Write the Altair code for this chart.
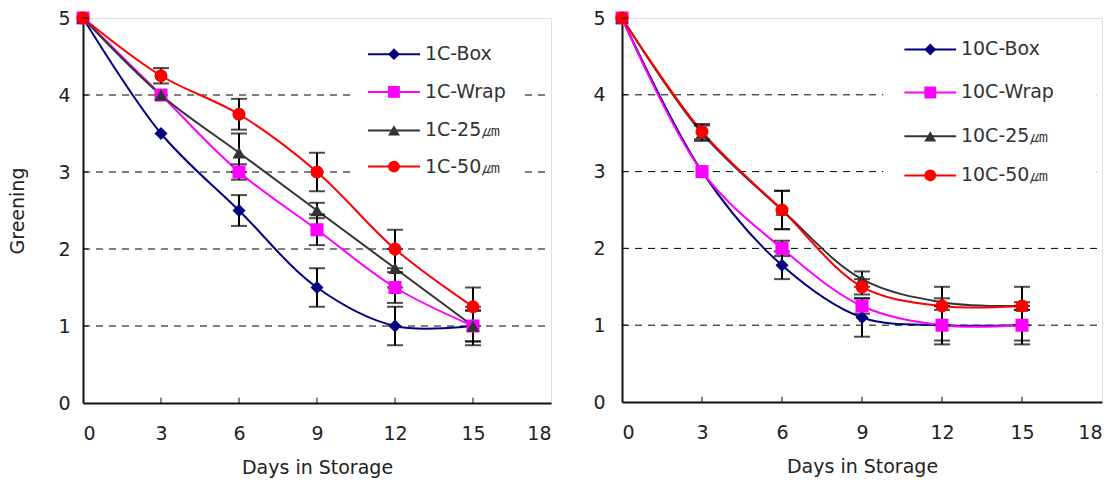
import altair as alt
import pandas as pd

# ---------------- data ----------------
days = [0, 3, 6, 9, 12, 15]
kinds = ["Box", "Wrap", "25", "50"]

left_labels = ["1C-Box", "1C-Wrap", "1C-25㎛", "1C-50㎛"]
left_box = [5.0, 3.5, 2.5, 1.5, 1.0, 1.0]
left_box_err = [0, 0, 0.2, 0.25, 0.25, 0.2]
left_wrap = [5.0, 4.0, 3.0, 2.25, 1.5, 1.0]
left_wrap_err = [0, 0, 0.1, 0.2, 0.2, 0.2]
left_25 = [5.0, 4.0, 3.25, 2.5, 1.75, 1.0]
left_25_err = [0, 0, 0.25, 0.1, 0.25, 0.25]
left_50 = [5.0, 4.25, 3.75, 3.0, 2.0, 1.25]
left_50_err = [0, 0.1, 0.2, 0.25, 0.25, 0.25]

right_labels = ["10C-Box", "10C-Wrap", "10C-25㎛", "10C-50㎛"]
right_box = [5.0, 3.0, 1.78, 1.1, 1.0, 1.0]
right_box_err = [0, 0, 0.18, 0.25, 0.25, 0.25]
right_wrap = [5.0, 3.0, 2.0, 1.25, 1.0, 1.0]
right_wrap_err = [0, 0, 0.1, 0.1, 0.2, 0.2]
right_25 = [5.0, 3.5, 2.5, 1.6, 1.3, 1.25]
right_25_err = [0, 0.1, 0.25, 0.1, 0.05, 0.05]
right_50 = [5.0, 3.52, 2.5, 1.5, 1.25, 1.25]
right_50_err = [0, 0.1, 0.25, 0.1, 0.25, 0.25]

x_ticks = [0, 3, 6, 9, 12, 15, 18]
y_ticks = [0, 1, 2, 3, 4, 5]
grid_levels = [1, 2, 3, 4]

colors = ["#000080", "#FF00FF", "#333333", "#FF0000"]
shapes = ["diamond", "square", "triangle-up", "circle"]

FONT = "DejaVu Sans"
TXT = "#222222"

color_scale = alt.Scale(domain=kinds, range=colors)
shape_scale = alt.Scale(domain=kinds, range=shapes)


def panel(values, errs, labels, leg_y, leg_x, bg, width, height, lab_pad, show_ytitle):
    xs = alt.Scale(domain=[0, 18], nice=False, zero=False)
    ys = alt.Scale(domain=[0, 5], nice=False)
    rows = []
    for k, vals, es in zip(kinds, values, errs):
        for d, v, e in zip(days, vals, es):
            rows.append({"kind": k, "day": d, "v": v, "lo": v - e, "hi": v + e, "e": e})
    df = pd.DataFrame(rows)
    edf = df[df["e"] > 0]

    X = alt.X("day:Q", scale=xs, axis=alt.Axis(
        values=x_ticks, format="d", title="Days in Storage", grid=False, ticks=False,
        domainColor="#111111", domainWidth=2, labelFont=FONT, labelFontSize=19,
        labelColor=TXT, labelPadding=21, titleFont=FONT, titleFontSize=19,
        titleFontWeight="normal", titleColor=TXT, titlePadding=15))
    Y = alt.Y("v:Q", scale=ys, axis=alt.Axis(
        values=y_ticks, format="d", title="Greening" if show_ytitle else None, grid=False,
        ticks=False, domainColor="#111111", domainWidth=2, labelFont=FONT,
        labelFontSize=19, labelColor=TXT, labelPadding=lab_pad, titleFont=FONT,
        titleFontSize=19, titleFontWeight="normal", titleColor=TXT, titlePadding=30))

    gdf = pd.DataFrame({"g": grid_levels, "x0": 0, "x1": 18})
    grid = alt.Chart(gdf).mark_rule(color="#000000", strokeWidth=1, strokeDash=[7, 6]).encode(
        x=alt.X("x0:Q", scale=xs), x2="x1:Q", y=alt.Y("g:Q", scale=ys))

    bgdf = pd.DataFrame({"x0": [bg[0]], "x1": [bg[1]], "y0": [bg[2]], "y1": [bg[3]]})
    bgr = alt.Chart(bgdf).mark_rect(color="white").encode(
        x=alt.X("x0:Q", scale=xs), x2="x1:Q", y=alt.Y("y0:Q", scale=ys), y2="y1:Q")

    xt = pd.DataFrame({"d": x_ticks[1:-1], "y0": 0, "y1": 0.07})
    xtick = alt.Chart(xt).mark_rule(color="#111111", strokeWidth=1).encode(
        x=alt.X("d:Q", scale=xs), y=alt.Y("y0:Q", scale=ys), y2="y1:Q")
    yt = pd.DataFrame({"v": y_ticks[1:], "x0": 0, "x1": 0.2})
    ytick = alt.Chart(yt).mark_rule(color="#111111", strokeWidth=1).encode(
        y=alt.Y("v:Q", scale=ys), x=alt.X("x0:Q", scale=xs), x2="x1:Q")

    base = alt.Chart(df)
    lines = base.mark_line(interpolate="catmull-rom", strokeWidth=2).encode(
        x=X, y=Y, color=alt.Color("kind:N", scale=color_scale, legend=None),
        detail="kind:N", order="day:Q")
    ebar = alt.Chart(edf).mark_rule(color="#000000", strokeWidth=2).encode(
        x=alt.X("day:Q", scale=xs), y=alt.Y("lo:Q", scale=ys), y2="hi:Q")
    cap_lo = alt.Chart(edf).mark_tick(color="#000000", orient="horizontal", size=16, thickness=2).encode(
        x=alt.X("day:Q", scale=xs), y=alt.Y("lo:Q", scale=ys))
    cap_hi = alt.Chart(edf).mark_tick(color="#000000", orient="horizontal", size=16, thickness=2).encode(
        x=alt.X("day:Q", scale=xs), y=alt.Y("hi:Q", scale=ys))
    pts = base.mark_point(filled=True, size=170, opacity=1).encode(
        x=alt.X("day:Q", scale=xs), y=alt.Y("v:Q", scale=ys),
        color=alt.Color("kind:N", scale=color_scale, legend=None),
        shape=alt.Shape("kind:N", scale=shape_scale, legend=None))

    ldf = pd.DataFrame({"kind": kinds, "label": labels, "ly": leg_y,
                        "x0": leg_x[0], "x1": leg_x[1], "xm": leg_x[2], "xt": leg_x[3]})
    lleg = alt.Chart(ldf).mark_rule(strokeWidth=2).encode(
        x=alt.X("x0:Q", scale=xs), x2="x1:Q", y=alt.Y("ly:Q", scale=ys),
        color=alt.Color("kind:N", scale=color_scale, legend=None))
    pleg = alt.Chart(ldf).mark_point(filled=True, size=140, opacity=1).encode(
        x=alt.X("xm:Q", scale=xs), y=alt.Y("ly:Q", scale=ys),
        color=alt.Color("kind:N", scale=color_scale, legend=None),
        shape=alt.Shape("kind:N", scale=shape_scale, legend=None))
    tleg = alt.Chart(ldf).mark_text(align="left", baseline="middle", font=FONT,
                                   fontSize=19, color="#333333").encode(
        x=alt.X("xt:Q", scale=xs), y=alt.Y("ly:Q", scale=ys), text="label:N")

    return alt.layer(grid, bgr, lines, ebar, cap_lo, cap_hi, pts, xtick, ytick,
                     lleg, pleg, tleg).properties(width=width, height=height)


left = panel([left_box, left_wrap, left_25, left_50],
             [left_box_err, left_wrap_err, left_25_err, left_50_err],
             left_labels, [4.53, 4.04, 3.54, 3.07],
             [10.96, 12.96, 11.96, 13.15], [10.5, 17.0, 2.8, 4.85],
             468, 385, 13, True)
right = panel([right_box, right_wrap, right_25, right_50],
              [right_box_err, right_wrap_err, right_25_err, right_50_err],
              right_labels, [4.59, 4.03, 3.46, 2.95],
              [10.59, 12.53, 11.56, 12.71], [9.8, 17.8, 2.75, 4.9],
              480, 384, 17, False)

chart = alt.hconcat(left, right, spacing=40).properties(
    padding={"left": 8, "top": 8, "right": 0, "bottom": 0}
).configure_view(stroke="#888888", strokeWidth=2).configure(background="white")

chart.save("out.html", embed_options={"renderer": "svg", "actions": False})
